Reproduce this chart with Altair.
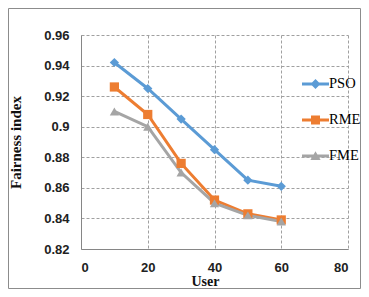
import altair as alt
import pandas as pd

users = [10, 20, 30, 40, 50, 60]
pso = [0.942, 0.925, 0.905, 0.885, 0.865, 0.861]
rme = [0.926, 0.908, 0.876, 0.852, 0.843, 0.839]
fme = [0.910, 0.900, 0.870, 0.850, 0.842, 0.838]
series = ["PSO", "RME", "FME"]
colors = ["#5B9BD5", "#ED7D31", "#A5A5A5"]
shapes = ["diamond", "square", "triangle-up"]
x_ticks = [0, 20, 40, 60, 80]
y_ticks = [0.82, 0.84, 0.86, 0.88, 0.90, 0.92, 0.94, 0.96]

rows = []
for name, vals in zip(series, [pso, rme, fme]):
    for u, v in zip(users, vals):
        rows.append({"user": u, "value": v, "series": name})
df = pd.DataFrame(rows)

W, H = 267, 214

# legend glyphs: a short line with the series marker on it
LINE = "M-1,-0.111H1V0.111H-1Z"
DIAMOND = "M0,-0.37L0.37,0L0,0.37L-0.37,0Z"
SQUARE = "M-0.333,-0.333H0.333V0.333H-0.333Z"
TRIANGLE = "M0,-0.36L0.38,0.3H-0.38Z"
legend_shapes = [LINE + DIAMOND, LINE + SQUARE, LINE + TRIANGLE]

legend = alt.Legend(
    title=None, orient="none", legendX=221, legendY=35.5, padding=0,
    symbolSize=729, symbolStrokeWidth=0, symbolOpacity=1,
    labelFont="Liberation Serif", labelFontSize=14.5, labelColor="#000000",
    labelOffset=0, rowPadding=16,
)

x_enc = alt.X("user:Q", scale=alt.Scale(domain=[0, 80], nice=False),
              axis=alt.Axis(values=x_ticks, title="User", titleX=124, titlePadding=0,
                            titleFontSize=14))
y_enc = alt.Y("value:Q", scale=alt.Scale(domain=[0.82, 0.96], nice=False, zero=False),
              axis=alt.Axis(values=y_ticks, format=".2~f", title="Fairness index",
                            titlePadding=20))

cscale = alt.Scale(domain=series, range=colors)

base = alt.Chart(df)

line = base.mark_line(strokeWidth=3).encode(
    x=x_enc, y=y_enc,
    color=alt.Color("series:N", sort=series, scale=cscale, legend=None),
)

points = base.mark_point(filled=True, size=85, opacity=1).encode(
    x=x_enc, y=y_enc,
    color=alt.Color("series:N", sort=series, scale=cscale, legend=None),
    shape=alt.Shape("series:N", sort=series,
                    scale=alt.Scale(domain=series, range=shapes), legend=None),
)

legend_layer = base.transform_filter("datum.user < 0").mark_point(
    filled=True, size=729, opacity=1
).encode(
    x=x_enc, y=y_enc,
    color=alt.Color("series:N", sort=series, scale=cscale, legend=legend),
    shape=alt.Shape("series:N", sort=series,
                    scale=alt.Scale(domain=series, range=legend_shapes), legend=legend),
)

border = alt.Chart(alt.Data(values=[{}])).mark_rect(
    fill=None, stroke="#8C8C8C", strokeWidth=1
).encode(
    x=alt.value(-72.5), x2=alt.value(W + 12.5), y=alt.value(-26.5), y2=alt.value(H + 39.5)
)

chart = alt.layer(border, line, points, legend_layer).resolve_scale(
    color="independent", shape="independent"
).properties(
    width=W, height=H,
    autosize=alt.AutoSizeParams(type="none"),
    padding={"left": 73, "top": 27, "right": 13, "bottom": 40},
).configure_view(stroke=None).configure_axis(
    grid=True, gridColor="#A0A0A0", gridDash=[3, 2], gridWidth=1,
    domainColor="#868686", domainWidth=1, ticks=False, tickSize=0,
    labelFont="Liberation Sans", labelFontWeight="bold", labelFontSize=13,
    labelColor="#222222", labelPadding=12,
    titleFont="Liberation Serif", titleFontWeight="bold", titleFontSize=15,
    titleColor="#111111",
)

chart.save("out.html", embed_options={"renderer": "svg", "actions": False})
